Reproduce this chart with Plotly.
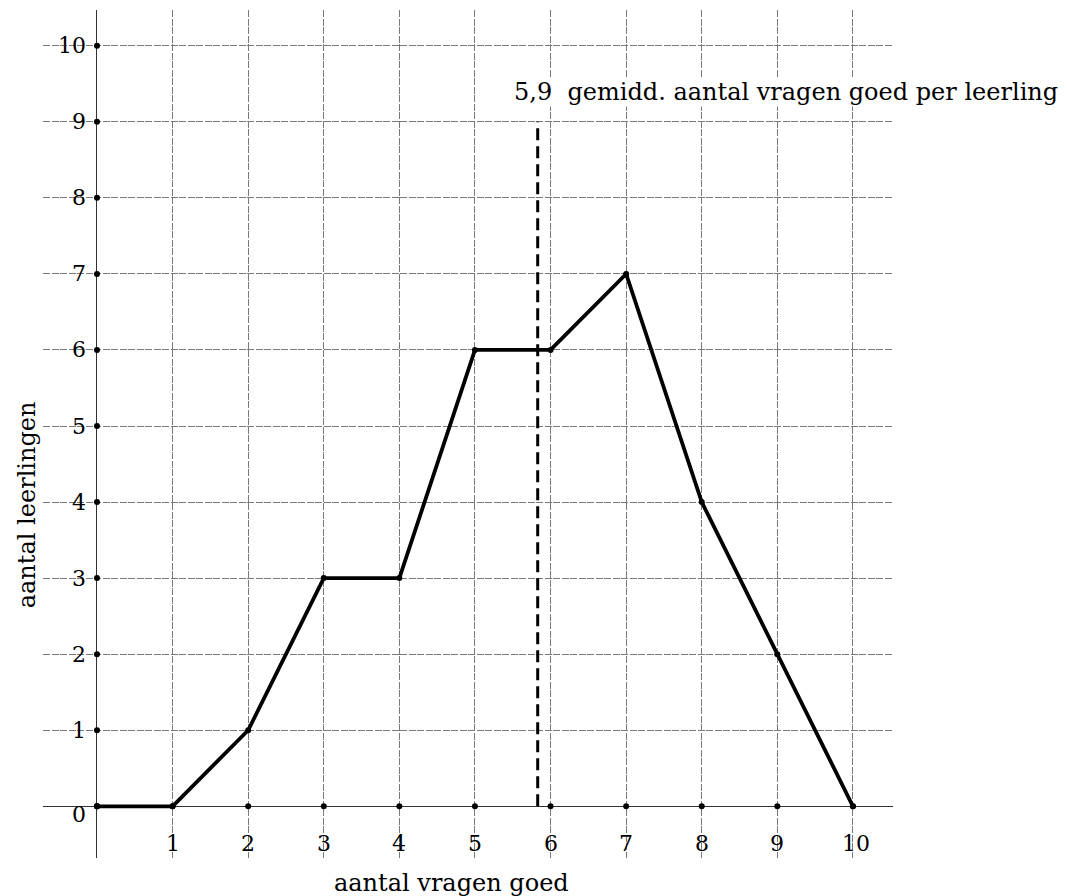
import plotly.graph_objects as go

# ---- data ----
vragen_goed = [0, 1, 2, 3, 4, 5, 6, 7, 8, 9, 10]
aantal_leerlingen = [0, 0, 1, 3, 3, 6, 6, 7, 4, 2, 0]
x_ticks = [1, 2, 3, 4, 5, 6, 7, 8, 9, 10]
x_tick_labels = ["1", "2", "3", "4", "5", "6", "7", "8", "9", "10"]
y_ticks = [0, 1, 2, 3, 4, 5, 6, 7, 8, 9, 10]
y_tick_labels = ["0", "1", "2", "3", "4", "5", "6", "7", "8", "9", "10"]
gemiddelde_pos = 5.83
gemiddelde_top = 9
gemiddelde_label = "5,9\u00a0\u00a0gemidd. aantal vragen goed per leerling"
x_title = "aantal vragen goed"
y_title = "aantal leerlingen"

FONT = "DejaVu Serif"
fig = go.Figure()

# axis dots
fig.add_trace(go.Scatter(x=vragen_goed, y=[0] * len(vragen_goed), mode="markers",
                         marker=dict(color="black", size=6), hoverinfo="skip", showlegend=False))
fig.add_trace(go.Scatter(x=[0] * len(y_ticks), y=y_ticks, mode="markers",
                         marker=dict(color="black", size=6), hoverinfo="skip", showlegend=False))

# mean dashed line
fig.add_trace(go.Scatter(x=[gemiddelde_pos, gemiddelde_pos], y=[0, gemiddelde_top], mode="lines",
                         line=dict(color="black", width=3, dash="12px,6px"),
                         hoverinfo="skip", showlegend=False))

# frequency polygon
fig.add_trace(go.Scatter(x=vragen_goed, y=aantal_leerlingen, mode="lines+markers",
                         line=dict(color="black", width=3.8),
                         marker=dict(color="black", size=6), showlegend=False))

annotations = []
for v, t in zip(x_ticks, x_tick_labels):
    annotations.append(dict(x=v, y=-0.49, xref="x", yref="y", text=t, showarrow=False,
                            xanchor="center", yanchor="middle", xshift=3 if v == 10 else 0,
                            font=dict(family=FONT, size=22, color="black")))
for v, t in zip(y_ticks, y_tick_labels):
    annotations.append(dict(x=-0.12, y=v, xref="x", yref="y", text=t, showarrow=False,
                            xanchor="right", yanchor="middle", yshift=-8 if v == 0 else 0,
                            font=dict(family=FONT, size=22, color="black")))
annotations.append(dict(x=5.5, y=9.39, xref="x", yref="y", text=gemiddelde_label,
                        showarrow=False, xanchor="left", yanchor="middle", bgcolor="white",
                        borderpad=0, font=dict(family=FONT, size=24, color="black")))
annotations.append(dict(x=0.48, y=-0.0295, xref="paper", yref="paper", text=x_title,
                        showarrow=False, xanchor="center", yanchor="middle",
                        font=dict(family=FONT, size=24, color="black")))
annotations.append(dict(x=-0.0188, y=0.416, xref="paper", yref="paper", text=y_title,
                        showarrow=False, textangle=-90, xanchor="center", yanchor="middle",
                        font=dict(family=FONT, size=24, color="black")))

grid = dict(showgrid=True, gridcolor="#7a7a7a", gridwidth=1, griddash="7px,1.5px",
            zeroline=True, zerolinecolor="#333333", zerolinewidth=1.3,
            showticklabels=False, ticks="", showline=False)

fig.update_layout(
    width=1059, height=888,
    margin=dict(l=35, r=174, t=2, b=38),
    paper_bgcolor="white", plot_bgcolor="white",
    xaxis=dict(range=[-0.714, 10.53], tickvals=vragen_goed, **grid),
    yaxis=dict(range=[-0.68, 10.47], tickvals=y_ticks, **grid),
    annotations=annotations,
    showlegend=False,
)

fig.write_html("out.html")
